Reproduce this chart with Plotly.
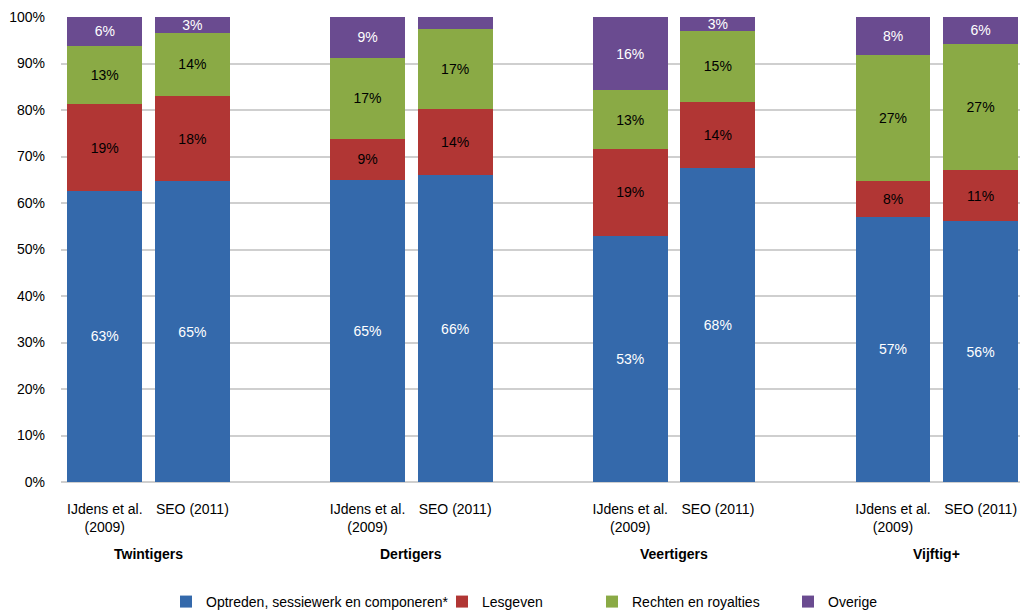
import plotly.graph_objects as go

groups = ["Twintigers", "Dertigers", "Veertigers", "Vijftig+"]
sources = ["IJdens et al.<br>(2009)", "SEO (2011)"]
xpos = [0, 1, 3, 4, 6, 7, 9, 10]

optreden = [62.6, 64.7, 65.0, 66.0, 53.0, 67.6, 57.0, 56.1]
lesgeven = [18.6, 18.3, 8.8, 14.2, 18.6, 14.2, 7.7, 11.0]
rechten = [12.6, 13.6, 17.4, 17.2, 12.6, 15.2, 27.1, 27.1]
overige = [6.2, 3.4, 8.8, 2.6, 15.8, 3.0, 8.2, 5.8]

series = [
    ("Optreden, sessiewerk en componeren*", optreden, "#3469AB", "white"),
    ("Lesgeven", lesgeven, "#B13634", "black"),
    ("Rechten en royalties", rechten, "#8AAA45", "black"),
    ("Overige", overige, "#6A4B90", "white"),
]
legend_ids = ["legend", "legend2", "legend3", "legend4"]
legend_x = [0.1095, 0.3973, 0.5537, 0.7581]

fig = go.Figure()
for (name, vals, color, tcolor), lid in zip(series, legend_ids):
    labels = [f"{v:.0f}%" if v >= 2.8 else "" for v in vals]
    fig.add_trace(go.Bar(
        x=xpos, y=vals, name=name, width=0.856, legend=lid,
        marker=dict(color=color, line=dict(width=0)),
        text=labels, textposition="inside", insidetextanchor="middle",
        textangle=0, constraintext="none",
        textfont=dict(color=tcolor, size=14, family="Liberation Sans, Arial"),
        hoverinfo="skip",
    ))

ticktext = [sources[i % 2] for i in range(len(xpos))]

for i, g in enumerate(groups):
    fig.add_annotation(
        x=(xpos[2 * i] + xpos[2 * i + 1]) / 2, y=-0.155, xref="x", yref="paper",
        text=f"<b>{g}</b>", showarrow=False, yanchor="middle",
        font=dict(size=14, color="black", family="Liberation Sans, Arial"),
    )

legend_common = dict(orientation="h", y=-0.258, yanchor="middle", xanchor="left",
                     font=dict(size=14), itemwidth=30, bgcolor="rgba(0,0,0,0)")
layout_legends = {}
for lid, lx in zip(legend_ids, legend_x):
    layout_legends[lid] = dict(x=lx, **legend_common)

fig.update_layout(
    barmode="stack",
    width=1020, height=612,
    margin=dict(l=61, r=0, t=17, b=130, autoexpand=False),
    plot_bgcolor="white", paper_bgcolor="white",
    font=dict(family="Liberation Sans, Arial", size=14, color="black"),
    uniformtext=dict(minsize=14, mode="show"),
    showlegend=True,
    xaxis=dict(range=[-0.5, 10.45], tickvals=xpos, ticktext=ticktext,
               showgrid=False, zeroline=False, showline=False, ticks="",
               tickfont=dict(size=14), fixedrange=True, automargin=False,
               ticklabelstandoff=17),
    yaxis=dict(range=[0, 100], tickvals=list(range(0, 101, 10)),
               ticktext=[f"{v}%" for v in range(0, 101, 10)],
               showgrid=True, gridcolor="#CFCFCF", gridwidth=1.5,
               zeroline=True, zerolinecolor="#CFCFCF", zerolinewidth=1.5,
               showline=False, ticks="", tickfont=dict(size=14), fixedrange=True,
               automargin=False, ticklabelstandoff=15),
    **layout_legends,
)

fig.write_html("out.html", config={"displayModeBar": False},
               post_script="document.body.style.margin='0';document.body.style.overflow='hidden';")
